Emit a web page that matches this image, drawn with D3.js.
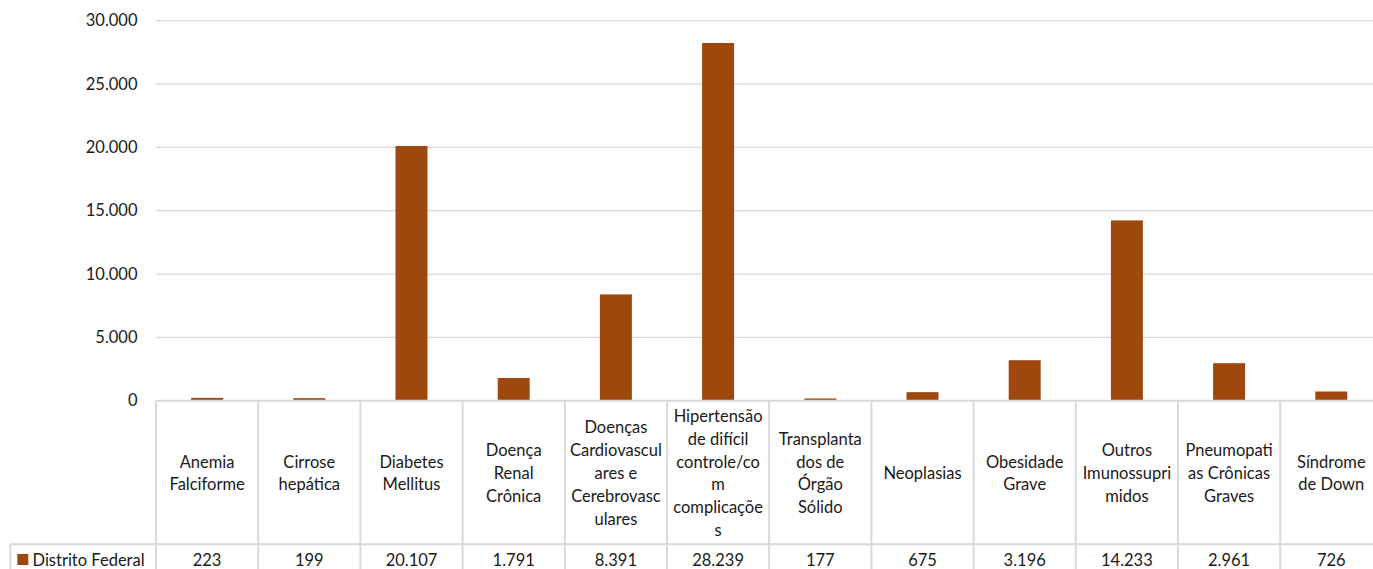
<!DOCTYPE html>
<html>
<head>
<meta charset="utf-8">
<script src="https://cdn.jsdelivr.net/npm/d3@7"></script>
<style>
  html, body { margin: 0; padding: 0; background: #fff; overflow: hidden; }
  svg { display: block; }
  text { font-family: "Lato", "Liberation Sans", sans-serif; fill: #1a1a1a; }
</style>
</head>
<body>
<svg id="chart" width="1373" height="569"></svg>
<script>
const categories = [
  "Anemia Falciforme", "Cirrose hepática", "Diabetes Mellitus", "Doença Renal Crônica",
  "Doenças Cardiovasculares e Cerebrovasculares", "Hipertensão de difícil controle/com complicações",
  "Transplantados de Órgão Sólido", "Neoplasias", "Obesidade Grave",
  "Outros Imunossuprimidos", "Pneumopatias Crônicas Graves", "Síndrome de Down"
];
const categoryLines = [
  ["Anemia", "Falciforme"],
  ["Cirrose", "hepática"],
  ["Diabetes", "Mellitus"],
  ["Doença", "Renal", "Crônica"],
  ["Doenças", "Cardiovascul", "ares e", "Cerebrovasc", "ulares"],
  ["Hipertensão", "de difícil", "controle/co", "m", "complicaçõe", "s"],
  ["Transplanta", "dos de", "Órgão", "Sólido"],
  ["Neoplasias"],
  ["Obesidade", "Grave"],
  ["Outros", "Imunossupri", "midos"],
  ["Pneumopati", "as Crônicas", "Graves"],
  ["Síndrome", "de Down"]
];
const seriesName = "Distrito Federal";
const values = [223, 199, 20107, 1791, 8391, 28239, 177, 675, 3196, 14233, 2961, 726];
const yTicks = [0, 5000, 10000, 15000, 20000, 25000, 30000];

const barColor = "#9E480E";
const gridColor = "#d9d9d9";
const fontSize = "16.5px";

const locale = d3.formatLocale({decimal: ",", thousands: ".", grouping: [3], currency: ["R$", ""]});
const fmt = locale.format(",d");

const svg = d3.select("#chart");
const plotLeft = 156, plotRight = 1382.4, plotTop = 20.7, plotBottom = 400.7;
const headerBottom = 544.3, tableBottom = 576, tableLeft = 10.3;

const x = d3.scaleBand().domain(categories).range([plotLeft, plotRight]).padding(0);
const xb = d3.scaleBand().domain(categories).range([plotLeft, plotRight]).paddingInner(0.687).paddingOuter(0.3435);
const y = d3.scaleLinear().domain([0, 30000]).range([plotBottom, plotTop]);

// gridlines
svg.append("g")
  .selectAll("line")
  .data(yTicks.filter(d => d > 0))
  .join("line")
  .attr("x1", plotLeft).attr("x2", plotRight)
  .attr("y1", d => y(d)).attr("y2", d => y(d))
  .attr("stroke", gridColor).attr("stroke-width", 1.3);

// y axis labels
const yAxis = d3.axisLeft(y).tickValues(yTicks).tickFormat(fmt).tickSize(0).tickPadding(18.5);
const gy = svg.append("g").attr("transform", `translate(${plotLeft},0)`).call(yAxis);
gy.select(".domain").remove();
gy.selectAll("text")
  .style("font-family", "Lato, 'Liberation Sans', sans-serif")
  .style("font-size", fontSize)
  .attr("fill", "#1a1a1a");

// bars
svg.append("g")
  .selectAll("rect")
  .data(values)
  .join("rect")
  .attr("x", (d, i) => xb(categories[i]))
  .attr("width", xb.bandwidth())
  .attr("y", d => y(d))
  .attr("height", d => y(0) - y(d))
  .attr("fill", barColor);

// data table
const tbl = svg.append("g").attr("stroke", gridColor).attr("stroke-width", 2);
tbl.append("line").attr("x1", plotLeft).attr("x2", plotRight).attr("y1", plotBottom).attr("y2", plotBottom);
tbl.append("line").attr("x1", tableLeft).attr("x2", plotRight).attr("y1", headerBottom).attr("y2", headerBottom);
tbl.append("line").attr("x1", tableLeft).attr("x2", tableLeft).attr("y1", headerBottom).attr("y2", tableBottom);
const bounds = categories.map(c => x(c)).concat([plotRight]);
tbl.selectAll(".v").data(bounds).join("line")
  .attr("x1", d => d).attr("x2", d => d)
  .attr("y1", plotBottom).attr("y2", tableBottom);

// header texts
const lineH = 22.8;
const headerMid = (plotBottom + headerBottom) / 2 + 0.5;
const hdr = svg.append("g");
categories.forEach((c, i) => {
  const lines = categoryLines[i];
  const cx = x(c) + x.bandwidth() / 2;
  const t = hdr.append("text")
    .attr("text-anchor", "middle")
    .style("font-size", fontSize);
  lines.forEach((ln, j) => {
    t.append("tspan")
      .attr("x", cx)
      .attr("y", headerMid + (j - (lines.length - 1) / 2) * lineH)
      .attr("dominant-baseline", "central")
      .text(ln);
  });
});

// value row
const rowMid = 560;
svg.append("g").selectAll("text").data(values).join("text")
  .attr("x", (d, i) => x(categories[i]) + x.bandwidth() / 2)
  .attr("y", rowMid)
  .attr("dominant-baseline", "central")
  .attr("text-anchor", "middle")
  .style("font-size", fontSize)
  .text(d => fmt(d));

// legend key + series name
svg.append("rect").attr("x", 17.3).attr("y", 554).attr("width", 11).attr("height", 11).attr("fill", barColor);
svg.append("text").attr("x", 32.5).attr("y", rowMid)
  .attr("dominant-baseline", "central")
  .style("font-size", fontSize)
  .text(seriesName);
</script>
</body>
</html>
